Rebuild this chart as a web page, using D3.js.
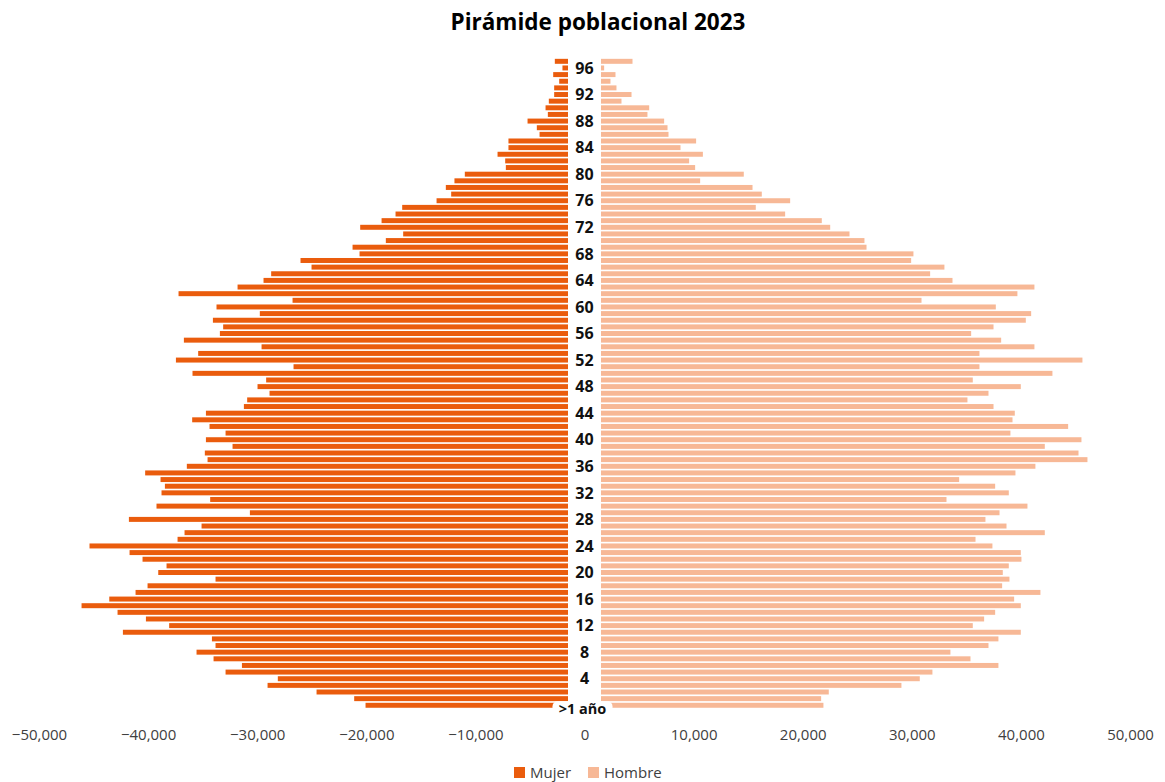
<!DOCTYPE html>
<html>
<head>
<meta charset="utf-8">
<script src="https://cdn.jsdelivr.net/npm/d3@7"></script>
<style>
  html, body { margin: 0; padding: 0; background: #fff; }
  svg { display: block; font-family: "Open Sans", "Noto Sans", sans-serif; }
</style>
</head>
<body>
<svg id="chart" width="1165" height="782"></svg>
<script>
// Ages 0..97 (single-year groups)
const ages = d3.range(0, 98);

// Women per age, 0..97
const mujer = [
  20070, 21110, 24560, 29050, 28110, 32900, 31400, 34000, 35560, 33820,
  34150, 42310, 38070, 40200, 42800, 46100, 43560, 41150, 40050, 33820,
  39070, 38310, 40510, 41700, 45370, 37300, 36660, 35100, 41760, 30670,
  39230, 34310, 38770, 38460, 38860, 40270, 36450, 34550, 34800, 32260,
  34700, 32900, 34370, 35960, 34700, 31220, 30920, 28870, 29970, 29180,
  35930, 26670, 37450, 35410, 29600, 36720, 33420, 33120, 34060, 29760,
  33730, 26760, 37210, 31800, 29420, 28720, 25020, 26030, 20620, 21260,
  18210, 16620, 20560, 18600, 17320, 16710, 13560, 12220, 12710, 11920,
  10970, 7210, 7270, 7970, 6970, 6970, 4120, 4370, 5220, 3360,
  3570, 3270, 2780, 2780, 2320, 2870, 2020, 2720
];

// Men per age, 0..97
const hombre = [
  21900, 21690, 22390, 29050, 30730, 31890, 37940, 35380, 33540, 37030,
  37940, 39990, 35590, 36630, 37640, 39990, 39380, 41790, 38280, 38950,
  38340, 38890, 40050, 39990, 37390, 35840, 42190, 38680, 36750, 38040,
  40600, 33180, 38890, 37640, 34340, 39500, 41330, 46100, 45280, 42190,
  45550, 39040, 44330, 39230, 39440, 37490, 35100, 37030, 39990, 35590,
  42890, 36200, 45640, 36200, 41240, 38190, 35440, 37490, 40450, 40940,
  37700, 30890, 39680, 41240, 33730, 31680, 32990, 29940, 30150, 25850,
  25660, 24290, 22520, 21750, 18390, 15700, 18850, 16250, 15400, 10600,
  14600, 10140, 9590, 10850, 8800, 10230, 7700, 7610, 7300, 5770,
  5930, 3390, 4310, 2930, 2380, 2840, 1800, 4400
];

// Ages that carry a label in the centre column
const labelAges = d3.range(0, 98, 4);
const firstAgeLabel = ">1 año";

// Value axis ticks
const xTicks = [-50000, -40000, -30000, -20000, -10000, 0, 10000, 20000, 30000, 40000, 50000];

const seriesNames = ["Mujer", "Hombre"];
const colors = { Mujer: "#EA5C0D", Hombre: "#F7B896" };

const svg = d3.select("#chart");

const x = d3.scaleLinear().domain([-50000, 50000]).range([39, 1130]);
const y = d3.scaleBand()
  .domain(ages.slice().reverse())
  .range([58, 708.6])
  .paddingInner(0.25)
  .paddingOuter(0.125);

// Title
svg.append("text")
  .attr("x", 598).attr("y", 30)
  .attr("text-anchor", "middle")
  .attr("font-size", 22.5).attr("font-weight", 700)
  .attr("fill", "#000")
  .text("Pirámide poblacional 2023");

const rows = ages.map((a, i) => ({ age: a, m: mujer[i], h: hombre[i] }));

// Women to the left of zero
svg.append("g").selectAll("rect").data(rows).join("rect")
  .attr("x", d => x(-d.m))
  .attr("y", d => y(d.age))
  .attr("width", d => x(0) - x(-d.m))
  .attr("height", y.bandwidth())
  .attr("fill", colors.Mujer);

// Men to the right of zero
svg.append("g").selectAll("rect").data(rows).join("rect")
  .attr("x", x(0))
  .attr("y", d => y(d.age))
  .attr("width", d => x(d.h) - x(0))
  .attr("height", y.bandwidth())
  .attr("fill", colors.Hombre);

// Centre column for the age labels
const colLeft = x(0) - 16.5, colRight = x(0) + 16.5;
svg.append("rect")
  .attr("x", colLeft).attr("y", y.range()[0] - 2)
  .attr("width", colRight - colLeft)
  .attr("height", y.range()[1] - y.range()[0] + 4)
  .attr("fill", "#fff");

const labels = svg.append("g")
  .attr("font-weight", 700)
  .attr("fill", "#111")
  .attr("text-anchor", "middle");

labels.selectAll("text.age").data(labelAges.filter(a => a > 0)).join("text")
  .attr("class", "age")
  .attr("x", x(0))
  .attr("y", a => y(a) + y.bandwidth() / 2)
  .attr("dy", "0.36em")
  .attr("font-size", 16)
  .text(a => String(a));

// First age group label on its own white plate
const y0 = y(0) + y.bandwidth() / 2 + 3;
svg.append("rect")
  .attr("x", x(0) - 32).attr("y", y0 - 7)
  .attr("width", 60).attr("height", 16)
  .attr("rx", 5)
  .attr("fill", "#fff");
svg.append("text")
  .attr("x", x(0) - 2).attr("y", y0)
  .attr("dy", "0.36em")
  .attr("text-anchor", "middle")
  .attr("font-size", 14.5).attr("font-weight", 700)
  .attr("fill", "#111")
  .text(firstAgeLabel);

// Value axis (labels only)
const xAxis = d3.axisBottom(x)
  .tickValues(xTicks)
  .tickSize(0)
  .tickPadding(0)
  .tickFormat(d3.format(",d"));
const gx = svg.append("g")
  .attr("transform", "translate(0,729)")
  .call(xAxis);
gx.select(".domain").remove();
gx.selectAll("text")
  .attr("font-family", "\"Open Sans\", \"Noto Sans\", sans-serif")
  .attr("font-size", 15)
  .attr("fill", "#404040")
  .attr("dy", "0.71em");

// Legend
const legend = svg.append("g");
const legendItems = [
  { name: seriesNames[0], x: 514 },
  { name: seriesNames[1], x: 588 }
];
legendItems.forEach(it => {
  legend.append("rect")
    .attr("x", it.x).attr("y", 767)
    .attr("width", 11).attr("height", 11)
    .attr("fill", colors[it.name]);
  legend.append("text")
    .attr("x", it.x + 16).attr("y", 773)
    .attr("dy", "0.36em")
    .attr("font-size", 15)
    .attr("fill", "#404040")
    .text(it.name);
});
</script>
</body>
</html>
